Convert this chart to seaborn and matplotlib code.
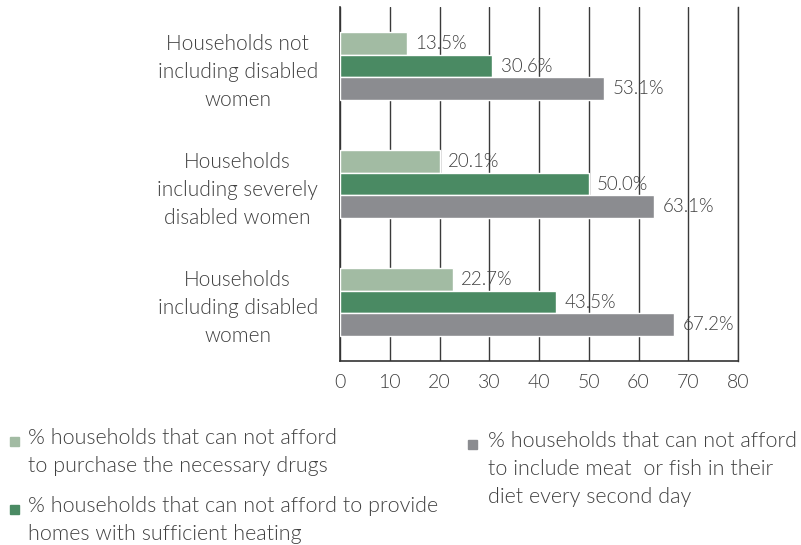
import matplotlib
matplotlib.use("Agg")
import matplotlib.pyplot as plt
import seaborn as sns
import pandas as pd
from matplotlib.patches import Rectangle

# Household groups (top to bottom) and the three deprivation measures
groups = [
    "Households not\nincluding disabled\nwomen",
    "Households\nincluding severely\ndisabled women",
    "Households\nincluding disabled\nwomen",
]
measures = [
    "% households that can not afford\nto purchase the necessary drugs",
    "% households that can not afford to provide\nhomes with sufficient heating",
    "% households that can not afford\nto include meat  or fish in their\ndiet every second day",
]
drugs = [13.5, 20.1, 22.7]
heating = [30.6, 50.0, 43.5]
meat_fish = [53.1, 63.1, 67.2]
xticks = [0, 10, 20, 30, 40, 50, 60, 70, 80]

colors = ["#a2bba3", "#4a8a63", "#8b8c90"]
text_color = "#3f3f3f"
FW = 300

sns.set_theme(style="white")
plt.rcParams["font.family"] = ["Lato", "DejaVu Sans"]

rows = []
for g, a, b, c in zip(groups, drugs, heating, meat_fish):
    rows.append((g, measures[0], a))
    rows.append((g, measures[1], b))
    rows.append((g, measures[2], c))
df = pd.DataFrame(rows, columns=["group", "measure", "value"])

fig = plt.figure(figsize=(8.01, 5.45), dpi=100)
ax = fig.add_axes([340 / 801, 1 - 361 / 545, 398 / 801, 354 / 545])

sns.barplot(
    data=df, y="group", x="value", hue="measure", order=groups,
    hue_order=measures, palette=colors, orient="h", width=0.58,
    saturation=1, legend=False, ax=ax, zorder=3,
)

for cont in ax.containers:
    ax.bar_label(cont, fmt="%.1f%%", padding=6, fontsize=13.5,
                 color=text_color, fontweight=FW, zorder=5)

ax.set_xlim(0, 80)
ax.set_xticks(xticks)
ax.set_xticklabels([str(t) for t in xticks], fontsize=14, color=text_color,
                   fontweight=FW)
ax.set_yticks(range(len(groups)))
ax.set_yticklabels(groups, fontsize=15, color=text_color, fontweight=FW,
                   multialignment="center", linespacing=1.5)
ax.tick_params(axis="y", length=0, pad=16)
ax.tick_params(axis="x", length=0, pad=9)
ax.set_xlabel("")
ax.set_ylabel("")

grid_color = "#3a3a3a"
ax.grid(axis="x", color=grid_color, linewidth=1.0, zorder=0)
ax.grid(axis="y", visible=False)
ax.spines["top"].set_visible(False)
ax.spines["right"].set_color(grid_color)
ax.spines["right"].set_linewidth(1.0)
ax.spines["left"].set_color("#333333")
ax.spines["bottom"].set_color("#333333")
ax.spines["left"].set_linewidth(1.2)
ax.spines["bottom"].set_linewidth(1.2)

# Legend drawn as marker squares with wrapped text beneath the plot
legend_items = [
    (14, 441, 28, measures[0], colors[0]),
    (14, 509, 28, measures[1], colors[1]),
    (472, 444, 488, measures[2], colors[2]),
]
W, H = 801, 545
for mx, my, tx, label, col in legend_items:
    fig.patches.append(Rectangle(((mx - 4.5) / W, 1 - (my + 4.5) / H), 9 / W, 9 / H,
                                 transform=fig.transFigure, color=col))
    fig.text(tx / W, 1 - (my - 13) / H, label, fontsize=15.5,
             color=text_color, fontweight=FW, va="top", ha="left",
             linespacing=1.5)

fig.savefig("out.png", dpi=100)
